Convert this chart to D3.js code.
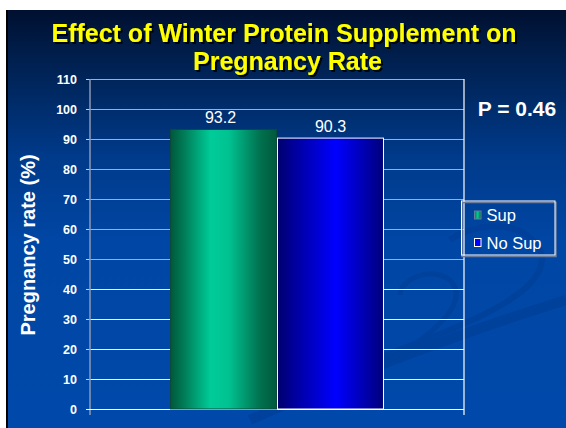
<!DOCTYPE html>
<html><head><meta charset="utf-8">
<script src="https://cdn.jsdelivr.net/npm/d3@7"></script>
<style>html,body{margin:0;padding:0;background:#fff;}svg{display:block;}</style>
</head><body>
<script>
const categories = [""];
const seriesNames = ["Sup", "No Sup"];
const seriesValues = [93.2, 90.3];
const tickValues = [0, 10, 20, 30, 40, 50, 60, 70, 80, 90, 100, 110];
const titleLines = ["Effect of Winter Protein Supplement on", "Pregnancy Rate"];
const yTitle = "Pregnancy rate (%)";
const pText = "P = 0.46";

const FONT = "Arial, 'Liberation Sans', sans-serif";
const W = 566, H = 428;
const svg = d3.select("body").append("svg").attr("width", W).attr("height", H);
const defs = svg.append("defs");

// background
const bg = defs.append("linearGradient").attr("id","bg").attr("x1",0).attr("y1",0).attr("x2",0).attr("y2",1);
[[0,"#001030"],[0.12,"#00204f"],[0.35,"#003a8a"],[0.55,"#0046a4"],[1,"#0049aa"]].forEach(s=>bg.append("stop").attr("offset",s[0]).attr("stop-color",s[1]));
svg.append("rect").attr("x",0).attr("y",0).attr("width",W).attr("height",H).attr("fill","#fff");
svg.append("rect").attr("x",6).attr("y",10).attr("width",W-6).attr("height",H-10).attr("fill","url(#bg)");
svg.append("rect").attr("x",6).attr("y",10).attr("width",2).attr("height",H-10).attr("fill","#000");

// faint swirls
const sw = svg.append("g").attr("fill","none").attr("stroke","#003f98").attr("opacity",0.7);
sw.append("path").attr("d","M250,420 C360,370 470,330 566,300").attr("stroke-width",10);
sw.append("path").attr("d","M320,380 C420,340 560,300 540,250 C520,215 470,225 450,240").attr("stroke-width",6);
sw.append("path").attr("d","M390,360 C440,330 470,300 450,280 C430,265 400,280 400,295").attr("stroke-width",5);

// shadow filter for title
const f = defs.append("filter").attr("id","shadow").attr("x","-5%").attr("y","-20%").attr("width","110%").attr("height","150%");
f.append("feDropShadow").attr("dx",2).attr("dy",2).attr("stdDeviation",0.6).attr("flood-color","#000").attr("flood-opacity",0.85);

// scales
const plotL = 90, plotR = 464, plotT = 79, plotB = 409;
const y = d3.scaleLinear().domain([0,110]).range([plotB, plotT]);
const x0 = d3.scaleBand().domain(categories).range([plotL, plotR]).paddingInner(0).paddingOuter(0.374);
const x1 = d3.scaleBand().domain(seriesNames).range([0, x0.bandwidth()]).padding(0);

// gridlines
svg.append("g").selectAll("line").data(tickValues.filter(v=>v>0)).join("line")
  .attr("x1",plotL).attr("x2",plotR).attr("y1",d=>y(d)).attr("y2",d=>y(d))
  .attr("stroke",d=> d>=50 ? "#a3aec4" : "#f0f0f0").attr("stroke-width",1).attr("shape-rendering","crispEdges");

// axis
const axis = d3.axisLeft(y).tickValues(tickValues).tickSize(4).tickPadding(9);
const ag = svg.append("g").attr("transform",`translate(${plotL},0)`).call(axis);
ag.select(".domain").remove();
ag.selectAll(".tick line").attr("stroke","#c8cfdc").attr("shape-rendering","crispEdges");
ag.selectAll(".tick text").attr("fill","#fff").attr("font-family",FONT).attr("font-size",12.5).attr("font-weight","bold");
svg.append("line").attr("x1",plotL).attr("x2",plotL).attr("y1",plotT).attr("y2",plotB+6)
  .attr("stroke","#8d99b3").attr("stroke-width",1.5);
svg.append("line").attr("x1",plotL-4).attr("x2",plotR).attr("y1",plotB).attr("y2",plotB)
  .attr("stroke","#fff").attr("stroke-width",1).attr("shape-rendering","crispEdges");
svg.append("line").attr("x1",plotR).attr("x2",plotR).attr("y1",plotT).attr("y2",plotB+6)
  .attr("stroke","#fff").attr("stroke-width",1.2);

// bar gradients
const gG = defs.append("linearGradient").attr("id","gGreen").attr("x1",0).attr("x2",1).attr("y1",0).attr("y2",0);
[[0,"#00583c"],[0.12,"#007a55"],[0.38,"#00cc99"],[0.55,"#00c291"],[0.85,"#00704e"],[1,"#005a3c"]].forEach(s=>gG.append("stop").attr("offset",s[0]).attr("stop-color",s[1]));
const gB = defs.append("linearGradient").attr("id","gBlue").attr("x1",0).attr("x2",1).attr("y1",0).attr("y2",0);
[[0,"#00006e"],[0.15,"#00009a"],[0.55,"#0000ff"],[0.85,"#0000a8"],[1,"#00007a"]].forEach(s=>gB.append("stop").attr("offset",s[0]).attr("stop-color",s[1]));
const fills = {"Sup":"url(#gGreen)","No Sup":"url(#gBlue)"};
const strokes = {"Sup":"#0b4a3a","No Sup":"#ffffff"};

const data = seriesNames.map((s,i)=>({cat:categories[0], s, v:seriesValues[i]}));
const bars = svg.append("g");
bars.selectAll("rect").data(data).join("rect")
  .attr("x",d=>x0(d.cat)+x1(d.s)+0.5).attr("width",x1.bandwidth()-1)
  .attr("y",d=>y(d.v)).attr("height",d=>y(0)-y(d.v))
  .attr("fill",d=>fills[d.s]).attr("stroke",d=>strokes[d.s]).attr("stroke-width",1);
bars.selectAll("text").data(data).join("text")
  .attr("x",d=>x0(d.cat)+x1(d.s)+x1.bandwidth()/2 - (d.s==="Sup"?3:0)).attr("y",d=>y(d.v)-6.5)
  .attr("text-anchor","middle").attr("fill","#fff").attr("font-family",FONT).attr("font-size",16)
  .text(d=>d.v.toFixed(1));

// title
const tg = svg.append("g").attr("font-family",FONT).attr("font-weight","bold").attr("font-size",25)
  .attr("text-anchor","middle").attr("fill","#ffff00").attr("filter","url(#shadow)");
const titleX = [284, 287.5], titleY = [42, 70];
titleLines.forEach((t,i)=>{
  tg.append("text").attr("x",titleX[i]).attr("y",titleY[i]).text(t);
});

// y title
svg.append("text").attr("transform","translate(35,245) rotate(-90)").attr("text-anchor","middle")
  .attr("fill","#fff").attr("font-family",FONT).attr("font-weight","bold").attr("font-size",20).text(yTitle);

// P value
svg.append("text").attr("x",517).attr("y",115.5).attr("text-anchor","middle").attr("fill","#fff")
  .attr("font-family",FONT).attr("font-weight","bold").attr("font-size",21).text(pText);

// legend
const lg = svg.append("g");
lg.append("rect").attr("x",462).attr("y",202.5).attr("width",94).attr("height",54).attr("fill","none").attr("stroke","#6d7d99").attr("stroke-width",1.5);
lg.append("rect").attr("x",461.5).attr("y",201).attr("width",93.5).attr("height",54).attr("fill","none").attr("stroke","#fff").attr("stroke-width",1);
const mG = defs.append("linearGradient").attr("id","mGreen").attr("x1",0).attr("x2",1);
[[0,"#007a55"],[0.5,"#00cc99"],[1,"#006040"]].forEach(s=>mG.append("stop").attr("offset",s[0]).attr("stop-color",s[1]));
const mFills = {"Sup":"url(#mGreen)","No Sup":"#0000ff"};
const mStrokes = {"Sup":"#5f7f9a","No Sup":"#ffffff"};
seriesNames.forEach((s,i)=>{
  const cy = 215 + i*27.5;
  lg.append("rect").attr("x",474.5).attr("y",cy-4).attr("width",6.5).attr("height",8).attr("fill",mFills[s]).attr("stroke",mStrokes[s]).attr("stroke-width",1);
  lg.append("text").attr("x",486.5).attr("y",cy+6).attr("fill","#fff").attr("font-family",FONT).attr("font-size",16.5).text(s);
});
</script>
</body></html>
